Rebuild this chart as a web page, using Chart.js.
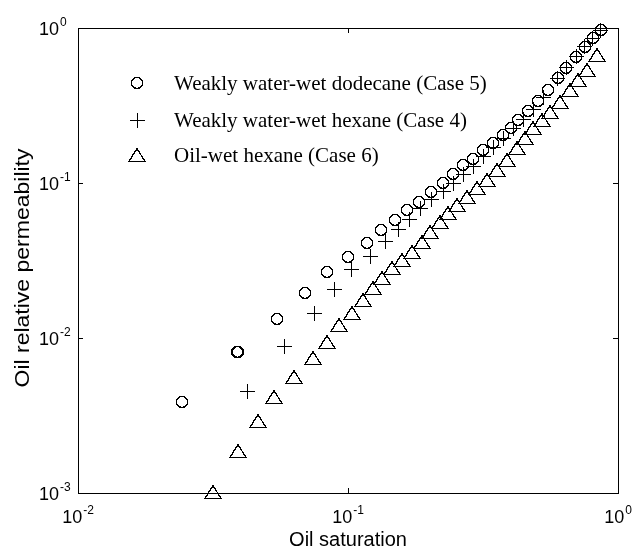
<!DOCTYPE html>
<html>
<head>
<meta charset="utf-8">
<script src="https://cdn.jsdelivr.net/npm/chart.js@4.4.1/dist/chart.umd.min.js"></script>
<style>
  body { margin: 0; background: #fff; }
  canvas { display: block; }
</style>
</head>
<body>
<canvas id="chart" width="635" height="550"></canvas>
<script>
// waarden (log-log)
const circleLabel = "Weakly water-wet dodecane (Case 5)";
const circleX = [0.0243, 0.0389, 0.0392, 0.0544, 0.0695, 0.0838, 0.1004, 0.1174, 0.1324, 0.1493, 0.1655,
    0.1836, 0.2025, 0.2239, 0.2443, 0.2673, 0.2911, 0.3171, 0.3452, 0.3760, 0.3999, 0.4272, 0.4653,
    0.5073, 0.5521, 0.5970, 0.6419, 0.6994, 0.7516, 0.8046, 0.8650];
const circleY = [0.00388, 0.00816, 0.00810, 0.01327, 0.0194, 0.0265, 0.0332, 0.0408, 0.0498, 0.0577, 0.0670,
    0.0757, 0.0879, 0.1007, 0.1143, 0.1297, 0.1439, 0.1621, 0.1825, 0.2055, 0.2280, 0.2531, 0.2935,
    0.3404, 0.3981, 0.4736, 0.5520, 0.6531, 0.7541, 0.8581, 0.9636];

const plusLabel = "Weakly water-wet hexane (Case 4)";
const plusX = [0.0424, 0.0584, 0.0750, 0.0895, 0.1032, 0.1213, 0.1371, 0.1535, 0.1687, 0.1849, 0.2042,
    0.2254, 0.2455, 0.2673, 0.2911, 0.3171, 0.3452, 0.3760, 0.4095, 0.4461, 0.4857, 0.5289,
    0.5970, 0.6419, 0.6994, 0.7516, 0.8046, 0.8650];
const plusY = [0.00451, 0.00879, 0.01443, 0.0207, 0.0275, 0.0335, 0.0418, 0.0498, 0.0583, 0.0687, 0.0785,
    0.0879, 0.0995, 0.1134, 0.1287, 0.1472, 0.1682, 0.1923, 0.2231, 0.2587, 0.3002, 0.3535,
    0.4736, 0.5520, 0.6531, 0.7541, 0.8581, 0.9636];

const triLabel = "Oil-wet hexane (Case 6)";
const triX = [0.0317, 0.0392, 0.0465, 0.0532, 0.0631, 0.0740, 0.0834, 0.0929, 0.1032, 0.1139, 0.1241,
    0.1333, 0.1452, 0.1581, 0.1722, 0.1875, 0.2013, 0.2192, 0.2352, 0.2527, 0.2752, 0.2997, 0.3265,
    0.3554, 0.3871, 0.4216, 0.4524, 0.4857, 0.5218, 0.5599, 0.6097, 0.6641, 0.7129, 0.7657, 0.8360];
const triY = [0.00101, 0.00187, 0.00292, 0.00418, 0.00558, 0.00740, 0.00946, 0.01213, 0.01450, 0.01758, 0.02092,
    0.02428, 0.02817, 0.03185, 0.03604, 0.04182, 0.04853, 0.05630, 0.06375, 0.07211, 0.08122, 0.09243, 0.1046,
    0.1213, 0.1408, 0.1675, 0.1943, 0.2254, 0.2550, 0.2884, 0.3345, 0.3981, 0.4618, 0.5358, 0.6697];

const xTicks = [0.01, 0.1, 1];
const xTickExp = ["-2", "-1", "0"];
const yTicks = [0.001, 0.01, 0.1, 1];
const yTickExp = ["-3", "-2", "-1", "0"];
const xTitle = "Oil saturation";
const yTitle = "Oil relative permeability";

const SANS = "'Liberation Sans', Arial, sans-serif";
const SERIF = "'Liberation Serif', 'Times New Roman', serif";

// markers als kleine canvassen, scherp gemaakt (zwart, geen grijze randen)
function marker(w, h, draw) {
    const c = document.createElement("canvas");
    c.width = w; c.height = h;
    const g = c.getContext("2d");
    g.strokeStyle = "#000";
    g.lineWidth = 1.2;
    g.beginPath();
    draw(g);
    g.stroke();
    const img = g.getImageData(0, 0, w, h);
    for (let i = 3; i < img.data.length; i += 4) {
        img.data[i] = img.data[i] > 100 ? 255 : 0;
    }
    g.putImageData(img, 0, 0);
    return c;
}
const circleMark = marker(14, 14, g => g.arc(7, 7, 5.6, 0, Math.PI * 2));
const plusMark = marker(15, 15, g => { g.moveTo(0.5, 7.5); g.lineTo(14.5, 7.5); g.moveTo(7.5, 0.5); g.lineTo(7.5, 14.5); });
const triMark = marker(18, 16, g => { g.moveTo(9, 1.5); g.lineTo(17, 14.5); g.lineTo(1, 14.5); g.closePath(); });

function pts(xs, ys) { return xs.map((x, i) => ({x: x, y: ys[i]})); }

function drawPow(ctx, exp, left, baseline) {
    ctx.font = "18px " + SANS;
    ctx.fillText("10", left, baseline);
    const w = ctx.measureText("10").width;
    ctx.font = "12px " + SANS;
    ctx.fillText(exp, left + w + 1, baseline - 9);
}
function powWidth(ctx, exp) {
    ctx.font = "18px " + SANS;
    const w = ctx.measureText("10").width;
    ctx.font = "12px " + SANS;
    return w + 1 + ctx.measureText(exp).width;
}

const axesPlugin = {
    id: "axesPlugin",
    beforeDatasetsDraw(chart) {
        const {ctx, chartArea: a, scales: {x, y}} = chart;
        ctx.save();
        ctx.strokeStyle = "#000";
        ctx.lineWidth = 1;
        ctx.strokeRect(a.left + 0.5, a.top + 0.5, a.right - a.left, a.bottom - a.top);
        ctx.beginPath();
        xTicks.forEach(v => {
            const px = Math.round(x.getPixelForValue(v)) + 0.5;
            ctx.moveTo(px, a.bottom); ctx.lineTo(px, a.bottom - 5);
            ctx.moveTo(px, a.top); ctx.lineTo(px, a.top + 5);
        });
        yTicks.forEach(v => {
            const py = Math.round(y.getPixelForValue(v)) + 0.5;
            ctx.moveTo(a.left, py); ctx.lineTo(a.left + 5, py);
            ctx.moveTo(a.right, py); ctx.lineTo(a.right - 5, py);
        });
        ctx.stroke();
        ctx.restore();
        ctx.imageSmoothingEnabled = false;
    },
    afterDatasetsDraw(chart) {
        chart.ctx.imageSmoothingEnabled = true;
    },
    afterDraw(chart) {
        const {ctx, chartArea: a, scales: {x, y}} = chart;
        ctx.save();
        ctx.fillStyle = "#000";
        ctx.textAlign = "left";
        ctx.textBaseline = "alphabetic";
        xTicks.forEach((v, i) => {
            const px = x.getPixelForValue(v);
            drawPow(ctx, xTickExp[i], px - powWidth(ctx, xTickExp[i]) / 2, a.bottom + 30);
        });
        yTicks.forEach((v, i) => {
            const py = y.getPixelForValue(v);
            drawPow(ctx, yTickExp[i], 39, py + 6.5);
        });
        ctx.font = "20px " + SANS;
        ctx.textAlign = "center";
        ctx.fillText(xTitle, (a.left + a.right) / 2, 546);
        ctx.save();
        ctx.translate(29, 268);
        ctx.rotate(-Math.PI / 2);
        ctx.scale(1.15, 1);
        ctx.fillText(yTitle, 0, 0);
        ctx.restore();

        // legenda binnen de grafiek
        const rows = [83, 120, 155];
        ctx.textAlign = "left";
        ctx.font = "21px " + SERIF;
        ctx.imageSmoothingEnabled = false;
        chart.data.datasets.forEach((ds, i) => {
            const m = ds.pointStyle;
            ctx.drawImage(m, Math.round(137 - m.width / 2), Math.round(rows[i] - m.height / 2));
            ctx.fillText(ds.label, 174, rows[i] + 7);
        });
        ctx.restore();
    }
};

new Chart(document.getElementById("chart"), {
    type: "scatter",
    data: {
        datasets: [
            {label: circleLabel, data: pts(circleX, circleY), pointStyle: circleMark, pointRadius: 6, clip: false},
            {label: plusLabel, data: pts(plusX, plusY), pointStyle: plusMark, pointRadius: 6, clip: false},
            {label: triLabel, data: pts(triX, triY), pointStyle: triMark, pointRadius: 7, clip: false}
        ]
    },
    options: {
        responsive: false,
        animation: false,
        layout: {padding: {left: 78, right: 17, top: 28, bottom: 57}},
        plugins: {legend: {display: false}, tooltip: {enabled: false}},
        scales: {
            x: {type: "logarithmic", min: 0.01, max: 1, display: false},
            y: {type: "logarithmic", min: 0.001, max: 1, display: false}
        }
    },
    plugins: [axesPlugin]
});
</script>
</body>
</html>
